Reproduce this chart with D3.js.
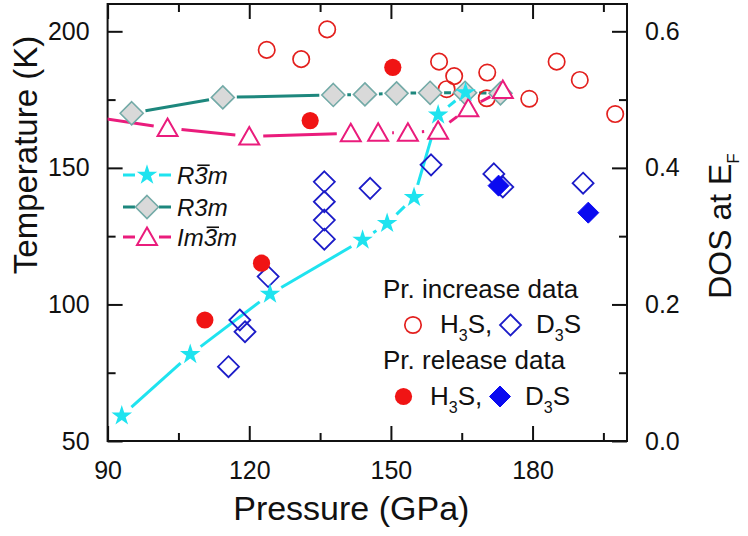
<!DOCTYPE html>
<html><head><meta charset="utf-8">
<script src="https://cdn.jsdelivr.net/npm/d3@7"></script>
<style>
html,body{margin:0;padding:0;background:#fff;}
svg{display:block;font-family:"Liberation Sans",Arial,sans-serif;}
</style></head>
<body><svg id="c" width="748" height="536"></svg>
<script>
// ---------- data ----------
const xTicks = [90, 120, 150, 180];
const xMinor = [105, 135, 165, 195];
const tTicks = [50, 100, 150, 200];
const tMinor = [75, 125, 175];
const dosTicks = [0.0, 0.2, 0.4, 0.6];
const dosMinor = [0.1, 0.3, 0.5];

// R-3m (calc), pressure GPa / Tc K
const r3barmP = [93.0, 107.5, 124.4, 144.0, 149.2, 154.9, 160.0, 165.8];
const r3barmT = [59.2, 81.7, 103.8, 123.6, 129.7, 139.2, 169.4, 177.6];
// R3m (calc)
const r3mP = [95.1, 114.4, 137.8, 144.5, 151.2, 158.3, 165.7, 173.2];
const r3mT = [170.0, 175.8, 176.7, 176.9, 177.3, 177.5, 177.5, 177.3];
// Im-3m (calc)
const im3mP = [85.0, 102.7, 120.0, 141.5, 147.3, 153.6, 160.0, 166.4, 173.7];
const im3mT = [169.1, 164.6, 161.5, 162.7, 162.9, 162.9, 163.6, 171.8, 178.5];

// Experimental: pressure increase
const h3sIncP = [123.7, 131.0, 136.5, 160.2, 163.4, 161.8, 170.4, 170.3, 179.3, 185.1, 190.0, 197.5];
const h3sIncT = [193.2, 189.8, 200.7, 188.9, 183.6, 178.8, 184.9, 175.5, 175.3, 188.9, 182.2, 169.7];
const d3sIncP = [115.6, 118.0, 119.1, 124.0, 135.9, 135.9, 135.9, 135.9, 145.6, 158.5, 171.8, 173.7, 190.7];
const d3sIncT = [77.2, 94.3, 90.0, 110.2, 144.9, 137.6, 130.9, 123.9, 142.5, 151.1, 147.8, 143.0, 144.4];
// Experimental: pressure release
const h3sRelP = [110.6, 122.6, 132.9, 150.4];
const h3sRelT = [94.3, 115.1, 167.3, 186.8];
const d3sRelP = [172.8, 191.8];
const d3sRelT = [143.5, 133.6];

// ---------- styles ----------
const C = {cyan:"#1fe3ef", teal:"#1d877d", gray:"#d9d9d9", grayEdge:"#73aaa7",
           pink:"#ea1c7c", red:"#f01414", redO:"#e3201e", blue:"#0a0af0", blueO:"#1c1cc8"};
const FONT = '"Liberation Sans", Arial, sans-serif';

const svg = d3.select("#c");
const L = 107.6, R = 627, T = 4, B = 441;
const x = d3.scaleLinear().domain([90, 200]).range([L, R]);
const yT = d3.scaleLinear().domain([50, 210]).range([B, T]);
const yD = d3.scaleLinear().domain([0, 0.64]).range([B, T]);

svg.append("defs").append("clipPath").attr("id","clip")
  .append("rect").attr("x",L).attr("y",T).attr("width",R-L).attr("height",B-T);

// ---------- axes ----------
function styleAxis(g){
  g.select(".domain").remove();
  g.selectAll(".tick line").attr("stroke","#111").attr("stroke-width",2);
  g.selectAll(".tick text").attr("fill","#111").attr("font-size",25).attr("font-family",FONT);
}
const gx = svg.append("g").attr("transform",`translate(0,${B})`)
  .call(d3.axisBottom(x).tickValues(xTicks).tickSize(-15).tickPadding(20).tickFormat(d3.format("d")));
styleAxis(gx);
const gxm = svg.append("g").attr("transform",`translate(0,${B})`)
  .call(d3.axisBottom(x).tickValues(xMinor).tickSize(-8).tickFormat(""));
styleAxis(gxm);
const gxt = svg.append("g").attr("transform",`translate(0,${T})`)
  .call(d3.axisTop(x).tickValues(xTicks).tickSize(-15).tickFormat(""));
styleAxis(gxt);
const gxtm = svg.append("g").attr("transform",`translate(0,${T})`)
  .call(d3.axisTop(x).tickValues(xMinor).tickSize(-8).tickFormat(""));
styleAxis(gxtm);

const gy = svg.append("g").attr("transform",`translate(${L},0)`)
  .call(d3.axisLeft(yT).tickValues(tTicks).tickSize(-15).tickPadding(18).tickFormat(d3.format("d")));
styleAxis(gy);
const gym = svg.append("g").attr("transform",`translate(${L},0)`)
  .call(d3.axisLeft(yT).tickValues(tMinor).tickSize(-8).tickFormat(""));
styleAxis(gym);
const gr = svg.append("g").attr("transform",`translate(${R},0)`)
  .call(d3.axisRight(yD).tickValues(dosTicks).tickSize(-15).tickPadding(18).tickFormat(d3.format(".1f")));
styleAxis(gr);
const grm = svg.append("g").attr("transform",`translate(${R},0)`)
  .call(d3.axisRight(yD).tickValues(dosMinor).tickSize(-8).tickFormat(""));
styleAxis(grm);

svg.append("rect").attr("x",L).attr("y",T).attr("width",R-L).attr("height",B-T)
  .attr("fill","none").attr("stroke","#111").attr("stroke-width",2);

// axis titles
svg.append("text").attr("x",(L+R)/2-16).attr("y",520).attr("text-anchor","middle")
  .attr("font-size",34).attr("font-family",FONT).attr("fill","#111").text("Pressure (GPa)");
svg.append("text").attr("transform","translate(37,155) rotate(-90)").attr("text-anchor","middle")
  .attr("font-size",33).attr("font-family",FONT).attr("fill","#111").text("Temperature (K)");
const dosT = svg.append("text").attr("transform","translate(731,226) rotate(-90)").attr("text-anchor","middle")
  .attr("font-size",32).attr("font-family",FONT).attr("fill","#111");
dosT.append("tspan").text("DOS at E");
dosT.append("tspan").attr("font-size",17).attr("dy",8).text("F");

// ---------- marker shapes ----------
const shp = {
  diamond: h => `M0,${-h}L${h},0L0,${h}L${-h},0Z`,
  tri: w => `M0,${-w*0.95}L${w},${w*0.8}L${-w},${w*0.8}Z`,
  star: r => d3.symbol(d3.symbolStar, r*r/0.8908).call(),
  circle: r => d3.symbol(d3.symbolCircle, Math.PI*r*r).call()
};

// line with gaps near markers
function gapLine(g, pts, gap, color, width){
  for(let i=0;i<pts.length-1;i++){
    const [x1,y1]=pts[i],[x2,y2]=pts[i+1];
    const dx=x2-x1, dy=y2-y1, len=Math.hypot(dx,dy);
    if(len<=2*gap) continue;
    const ux=dx/len, uy=dy/len;
    g.append("line").attr("x1",x1+ux*gap).attr("y1",y1+uy*gap)
      .attr("x2",x2-ux*gap).attr("y2",y2-uy*gap)
      .attr("stroke",color).attr("stroke-width",width).attr("stroke-linecap","butt");
  }
}
const plot = svg.append("g").attr("clip-path","url(#clip)");

function zip(P,V){ return P.map((p,i)=>[x(p), yT(V[i])]); }

// calc lines
const imPts = zip(im3mP, im3mT);
const r3Pts = zip(r3mP, r3mT);
const rbPts = zip(r3barmP, r3barmT);
gapLine(plot, imPts, 14, C.pink, 3);
gapLine(plot, r3Pts, 14, C.teal, 3);
gapLine(plot, rbPts, 13, C.cyan, 3);

// experimental
function marks(pts, path, fill, stroke, sw){
  plot.selectAll(null).data(pts).join("path")
    .attr("transform",d=>`translate(${d[0]},${d[1]})`).attr("d",path)
    .attr("fill",fill).attr("stroke",stroke).attr("stroke-width",sw);
}
marks(zip(h3sIncP,h3sIncT), shp.circle(8.2), "none", C.redO, 1.7);
marks(zip(d3sIncP,d3sIncT), shp.diamond(10.5), "none", C.blueO, 1.8);
marks(zip(h3sRelP,h3sRelT), shp.circle(8.6), C.red, "none", 0);
marks(zip(d3sRelP,d3sRelT), shp.diamond(10.5), C.blue, C.blue, 1);

// calc markers
marks(r3Pts, shp.diamond(11.5), C.gray, C.grayEdge, 1.6);
marks(imPts, shp.tri(10), "#fff", C.pink, 2);
marks(rbPts, shp.star(10.8), C.cyan, "none", 0);

// ---------- legend (left: calc) ----------
function barText(g, xx, yy, parts, size){
  const t = g.append("text").attr("x",xx).attr("y",yy).attr("font-size",size)
    .attr("font-family",FONT).attr("font-style","italic").attr("fill","#111");
  let idx=0; const bars=[];
  parts.forEach(p=>{ t.append("tspan").text(p.t); if(p.bar) bars.push(idx); idx+=p.t.length; });
  const node=t.node();
  bars.forEach(i=>{
    const s=node.getStartPositionOfChar(i), e=node.getEndPositionOfChar(i);
    g.append("line").attr("x1",s.x+3).attr("x2",e.x+2).attr("y1",yy-size*0.76).attr("y2",yy-size*0.76)
      .attr("stroke","#111").attr("stroke-width",1.6);
  });
}
const legC = [
  {y:175, color:C.cyan, path:shp.star(10.8), fill:C.cyan, stroke:"none", sw:0, label:[{t:"R"},{t:"3",bar:true},{t:"m"}]},
  {y:207, color:C.teal, path:shp.diamond(11.5), fill:C.gray, stroke:C.grayEdge, sw:1.6, label:[{t:"R3m"}]},
  {y:237, color:C.pink, path:shp.tri(10), fill:"#fff", stroke:C.pink, sw:2, label:[{t:"Im"},{t:"3",bar:true},{t:"m"}]}
];
const lg = svg.append("g");
legC.forEach(d=>{
  lg.append("line").attr("x1",123).attr("x2",135).attr("y1",d.y).attr("y2",d.y).attr("stroke",d.color).attr("stroke-width",3);
  lg.append("line").attr("x1",159).attr("x2",171).attr("y1",d.y).attr("y2",d.y).attr("stroke",d.color).attr("stroke-width",3);
  lg.append("path").attr("transform",`translate(147,${d.y})`).attr("d",d.path)
    .attr("fill",d.fill).attr("stroke",d.stroke).attr("stroke-width",d.sw);
  barText(lg, 177, d.y+8.5, d.label, 24);
});

// ---------- legend (right: experiment) ----------
function chem(g, xx, yy, base){
  const t=g.append("text").attr("x",xx).attr("y",yy).attr("font-size",26).attr("font-family",FONT).attr("fill","#111");
  t.append("tspan").text(base[0]);
  t.append("tspan").attr("font-size",16).attr("dy",8).text("3");
  t.append("tspan").attr("dy",-8).text(base[1]);
}
const le = svg.append("g");
le.append("text").attr("x",383).attr("y",298).attr("font-size",26).attr("font-family",FONT).attr("fill","#111").text("Pr. increase data");
le.append("path").attr("transform","translate(413,325)").attr("d",shp.circle(8.2)).attr("fill","none").attr("stroke",C.redO).attr("stroke-width",1.7);
chem(le, 440, 333, ["H","S,"]);
le.append("path").attr("transform","translate(510.5,325)").attr("d",shp.diamond(10.5)).attr("fill","none").attr("stroke",C.blueO).attr("stroke-width",1.8);
chem(le, 536, 333, ["D","S"]);
le.append("text").attr("x",383).attr("y",369).attr("font-size",26).attr("font-family",FONT).attr("fill","#111").text("Pr. release data");
le.append("path").attr("transform","translate(403.5,396.5)").attr("d",shp.circle(8.6)).attr("fill",C.red);
chem(le, 430, 405, ["H","S,"]);
le.append("path").attr("transform","translate(500,396.5)").attr("d",shp.diamond(10.5)).attr("fill",C.blue).attr("stroke",C.blue);
chem(le, 525, 405, ["D","S"]);
</script></body></html>
